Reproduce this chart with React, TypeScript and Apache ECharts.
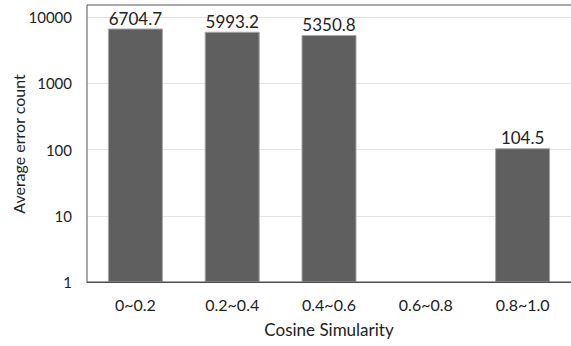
import React, { useEffect, useRef } from "react";
import * as echarts from "echarts";

const categories = ["0~0.2", "0.2~0.4", "0.4~0.6", "0.6~0.8", "0.8~1.0"];
const values: (number | null)[] = [6704.7, 5993.2, 5350.8, null, 104.5];
const yTicks = [1, 10, 100, 1000, 10000];

const FONT = "Lato";

export default function App() {
  const ref = useRef<HTMLDivElement>(null);
  useEffect(() => {
    if (!ref.current) return;
    const chart = echarts.init(ref.current, undefined, { renderer: "svg" });
    chart.setOption({
      animation: false,
      grid: { left: 87, right: -3, top: 17, bottom: 64, containLabel: false },
      graphic: [
        {
          type: "rect",
          shape: { x: 87, y: 5, width: 490, height: 277 },
          style: { fill: "none", stroke: "#555", lineWidth: 1 },
          silent: true,
          z: 10,
        },
        {
          type: "text",
          x: 18,
          y: 144,
          rotation: Math.PI / 2,
          style: {
            text: "Average error count",
            font: `16px ${FONT}`,
            fill: "#222",
            align: "center",
            verticalAlign: "middle",
          },
        },
      ],
      xAxis: {
        type: "category",
        data: categories,
        axisLine: { lineStyle: { color: "#444" } },
        axisTick: { show: false },
        axisLabel: { color: "#222", fontFamily: FONT, fontSize: 16, margin: 14 },
        name: "Cosine Simularity",
        nameLocation: "middle",
        nameGap: 39,
        nameTextStyle: { color: "#222", fontFamily: FONT, fontSize: 17 },
      },
      yAxis: {
        type: "log",
        logBase: 10,
        min: yTicks[0],
        max: yTicks[yTicks.length - 1],
        axisLine: { show: false },
        axisTick: { show: false },
        splitLine: { lineStyle: { color: "#e4e4e4" } },
        axisLabel: {
          color: "#222",
          fontFamily: FONT,
          fontSize: 15,
          margin: 15,
          formatter: (v: number) => String(Math.round(v)),
        },
      },
      series: [
        {
          type: "bar",
          data: values.map((v) => (v == null ? "-" : v)),
          barWidth: 55,
          itemStyle: { color: "#5f5f5f", borderColor: "#a8a8a8", borderWidth: 1 },
          label: {
            show: true,
            position: "top",
            distance: 2,
            color: "#222",
            fontFamily: FONT,
            fontSize: 17,
          },
        },
      ],
    });
    return () => chart.dispose();
  }, []);
  return (
    <div
      ref={ref}
      style={{ position: "absolute", left: 0, top: 0, width: 571, height: 346 }}
    />
  );
}
